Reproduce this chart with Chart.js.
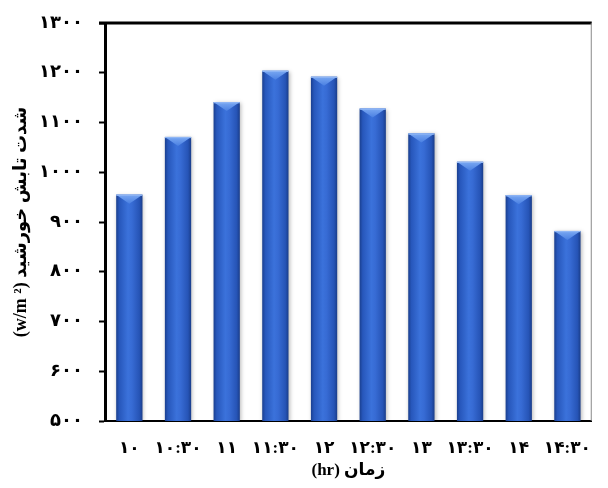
<!DOCTYPE html>
<html>
<head>
<meta charset="utf-8">
<script src="https://cdn.jsdelivr.net/npm/chart.js@4/dist/chart.umd.min.js"></script>
<style>
  html, body { margin: 0; padding: 0; background: #fff; }
  #wrap { width: 608px; height: 488px; }
</style>
</head>
<body>
<div id="wrap"><canvas id="c" width="608" height="488"></canvas></div>
<script>
// Hour of day (Persian digits)
const hours = ['۱۰', '۱۰:۳۰', '۱۱', '۱۱:۳۰', '۱۲', '۱۲:۳۰', '۱۳', '۱۳:۳۰', '۱۴', '۱۴:۳۰'];
// Solar irradiance, W/m²
const irradiance = [955, 1071, 1141, 1204, 1192, 1128, 1078, 1021, 954, 882];
// Value-axis labels from 500 to 1300
const yTickValues = [500, 600, 700, 800, 900, 1000, 1100, 1200, 1300];
const yTickLabels = ['۵۰۰', '۶۰۰', '۷۰۰', '۸۰۰', '۹۰۰', '۱۰۰۰', '۱۱۰۰', '۱۲۰۰', '۱۳۰۰'];
const yTitle = '(w/m ²) شدت تابش خورشید';
const xTitle = '(hr) زمان';

const FONT = '"Liberation Serif", "Times New Roman", "DejaVu Sans", serif';

// Paint each bar with a cylinder-like gradient and a bevelled top
const barShade = {
  id: 'barShade',
  afterDatasetsDraw(chart) {
    const ctx = chart.ctx;
    const a = chart.chartArea;
    const meta = chart.getDatasetMeta(0);
    ctx.save();
    ctx.beginPath();
    ctx.rect(a.left, a.top, a.right - a.left, a.bottom - a.top);
    ctx.clip();
    meta.data.forEach(el => {
      const { x, y, base, width } = el.getProps(['x', 'y', 'base', 'width'], true);
      const l = x - width / 2, r = x + width / 2;
      const bottom = Math.min(base, a.bottom);
      ctx.save();
      ctx.shadowColor = 'rgba(0,0,0,0.28)';
      ctx.shadowBlur = 4;
      ctx.shadowOffsetX = 1;
      ctx.shadowOffsetY = 1;
      const g = ctx.createLinearGradient(l, 0, r, 0);
      g.addColorStop(0, '#1a3f8f');
      g.addColorStop(0.12, '#2757bb');
      g.addColorStop(0.45, '#3b72db');
      g.addColorStop(0.6, '#376bd4');
      g.addColorStop(0.88, '#2654b6');
      g.addColorStop(1, '#1a3d8a');
      ctx.fillStyle = g;
      ctx.fillRect(l, y, width, bottom - y);
      ctx.restore();

      // bevel on the top face
      const bh = 9;
      ctx.save();
      ctx.beginPath();
      ctx.moveTo(l, y);
      ctx.lineTo(r, y);
      ctx.lineTo(x, y + bh);
      ctx.closePath();
      const tg = ctx.createLinearGradient(0, y, 0, y + bh);
      tg.addColorStop(0, '#7aa8f2');
      tg.addColorStop(1, '#4a80e2');
      ctx.fillStyle = tg;
      ctx.fill();
      ctx.fillStyle = '#8fb6f5';
      ctx.fillRect(l, y, width, 1.2);
      ctx.restore();
    });
    ctx.restore();
  }
};

// Closing frame lines (top and right) of the plot area
const frame = {
  id: 'frame',
  afterDraw(chart) {
    const { ctx, chartArea: a } = chart;
    ctx.save();
    ctx.strokeStyle = '#000';
    ctx.lineWidth = 3;
    ctx.beginPath();
    ctx.moveTo(a.left - 6, a.top);
    ctx.lineTo(a.right, a.top);
    ctx.stroke();
    ctx.strokeStyle = '#888';
    ctx.lineWidth = 1;
    ctx.beginPath();
    ctx.moveTo(a.right - 0.5, a.top);
    ctx.lineTo(a.right - 0.5, a.bottom);
    ctx.stroke();
    ctx.restore();
  }
};

new Chart(document.getElementById('c'), {
  type: 'bar',
  data: {
    labels: hours,
    datasets: [{
      data: irradiance,
      backgroundColor: 'rgba(0,0,0,0)',
      borderWidth: 0,
      barPercentage: 0.54,
      categoryPercentage: 1.0
    }]
  },
  options: {
    responsive: false,
    animation: false,
    devicePixelRatio: 1,
    layout: { padding: { top: 23, right: 0, bottom: 0, left: 0 } },
    plugins: {
      legend: { display: false },
      tooltip: { enabled: false }
    },
    scales: {
      x: {
        grid: { display: false, drawTicks: false },
        border: { display: true, color: '#000', width: 2 },
        ticks: {
          autoSkip: false,
          maxRotation: 0,
          minRotation: 0,
          padding: 17,
          color: '#000',
          font: { family: FONT, size: 17, weight: 'bold' }
        },
        title: {
          display: true,
          text: xTitle,
          color: '#000',
          padding: { top: 2, bottom: 7 },
          font: { family: FONT, size: 17, weight: 'bold' }
        },
        afterFit(scale) { scale.height = 67; }
      },
      y: {
        min: 500,
        max: 1300,
        afterBuildTicks(scale) {
          scale.ticks = yTickValues.map(v => ({ value: v }));
        },
        grid: {
          display: true,
          drawOnChartArea: false,
          drawTicks: true,
          tickLength: 6,
          tickWidth: 2,
          tickColor: '#000'
        },
        border: { display: true, color: '#000', width: 3 },
        ticks: {
          padding: 16,
          color: '#000',
          font: { family: FONT, size: 18, weight: 'bold' },
          callback(value) {
            const i = yTickValues.indexOf(value);
            return i >= 0 ? yTickLabels[i] : '';
          }
        },
        title: {
          display: true,
          text: yTitle,
          color: '#000',
          padding: { top: 11, bottom: 0 },
          font: { family: FONT, size: 18, weight: 'bold' }
        },
        afterFit(scale) {
          scale.width = 105;
          scale.paddingTop = 0;
          scale.paddingBottom = 0;
        }
      }
    }
  },
  plugins: [barShade, frame]
});
</script>
</body>
</html>
